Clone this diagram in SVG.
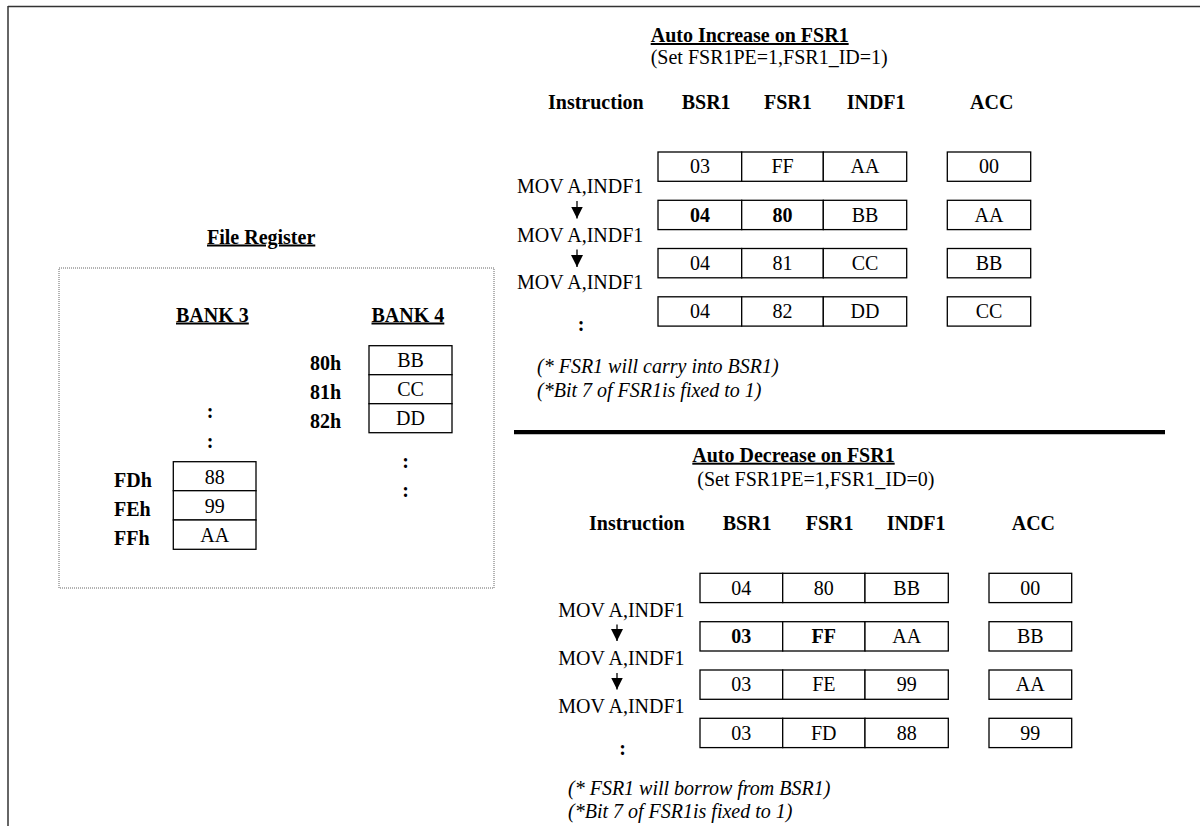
<svg xmlns="http://www.w3.org/2000/svg" width="1200" height="826" viewBox="0 0 1200 826">
<style>
.t{font-family:"Liberation Serif","Times New Roman",serif;font-size:20px;fill:#000}
.b{font-weight:bold}
.u{text-decoration:underline}
.i{font-style:italic}
.c{text-anchor:middle}
.cell{fill:#fff;stroke:#000;stroke-width:1.3}
.arrow{stroke:#000;stroke-width:1.3;fill:none;marker-end:url(#ah)}
</style>
<defs>
<marker id="ah" markerUnits="userSpaceOnUse" markerWidth="12" markerHeight="12" viewBox="0 0 12 12" refX="12" refY="6" orient="auto"><path d="M0,0 L12,6 L0,12 z" fill="#000"/></marker>
</defs>
<rect width="1200" height="826" fill="#fff"/>
<g id="frame" stroke="#333" stroke-width="1.5" fill="none">
<line x1="8" y1="6.5" x2="1200" y2="6.5"/>
<line x1="8" y1="6" x2="8" y2="826"/>
</g>

<!-- File register -->
<g id="file-register">
<text class="t b u" x="207" y="243.5">File Register</text>
<rect x="59" y="268" width="435" height="320" fill="none" stroke="#666" stroke-width="1" stroke-dasharray="1,1"/>
<text class="t b u" x="176" y="321.5">BANK 3</text>
<text class="t b u" x="371.5" y="321.5">BANK 4</text>
</g>
<g id="bank4">
<rect class="cell" x="369" y="345.7" width="83" height="29"/>
<rect class="cell" x="369" y="374.7" width="83" height="29"/>
<rect class="cell" x="369" y="403.7" width="83" height="29"/>
<text class="t c" x="410.5" y="367">BB</text>
<text class="t c" x="410.5" y="396">CC</text>
<text class="t c" x="410.5" y="425">DD</text>
<text class="t b" x="310" y="369.5">80h</text>
<text class="t b" x="310" y="398.5">81h</text>
<text class="t b" x="310" y="427.5">82h</text>
<text class="t b c" x="405.7" y="467.5">:</text>
<text class="t b c" x="405.7" y="496.5">:</text>
</g>
<g id="bank3">
<rect class="cell" x="173.3" y="461.7" width="82.7" height="29"/>
<rect class="cell" x="173.3" y="490.7" width="82.7" height="29.3"/>
<rect class="cell" x="173.3" y="520" width="82.7" height="29.3"/>
<text class="t c" x="214.7" y="484">88</text>
<text class="t c" x="214.7" y="512.7">99</text>
<text class="t c" x="214.7" y="541.7">AA</text>
<text class="t b" x="114" y="487">FDh</text>
<text class="t b" x="114" y="515.5">FEh</text>
<text class="t b" x="114" y="544.5">FFh</text>
<text class="t b c" x="210" y="418">:</text>
<text class="t b c" x="210" y="447.5">:</text>
</g>

<!-- Auto increase -->
<g id="inc-header">
<text class="t b u" x="650.7" y="42">Auto Increase on FSR1</text>
<text class="t" x="650.7" y="63.5">(Set FSR1PE=1,FSR1_ID=1)</text>
<text class="t b" x="548" y="109">Instruction</text>
<text class="t b" x="681.7" y="109">BSR1</text>
<text class="t b" x="764" y="109">FSR1</text>
<text class="t b" x="846.7" y="109">INDF1</text>
<text class="t b" x="970" y="109">ACC</text>
</g>
<g id="inc-row1">
<rect class="cell" x="658" y="152" width="83.7" height="29.3"/>
<rect class="cell" x="741.7" y="152" width="81.6" height="29.3"/>
<rect class="cell" x="823.3" y="152" width="83.4" height="29.3"/>
<rect class="cell" x="947.3" y="152" width="83.4" height="29.3"/>
<text class="t c" x="700" y="173.4">03</text>
<text class="t c" x="782.5" y="173.4">FF</text>
<text class="t c" x="865" y="173.4">AA</text>
<text class="t c" x="989" y="173.4">00</text>
</g>
<g id="inc-row2">
<rect class="cell" x="658" y="200.3" width="83.7" height="29.3"/>
<rect class="cell" x="741.7" y="200.3" width="81.6" height="29.3"/>
<rect class="cell" x="823.3" y="200.3" width="83.4" height="29.3"/>
<rect class="cell" x="947.3" y="200.3" width="83.4" height="29.3"/>
<text class="t b c" x="700" y="221.7">04</text>
<text class="t b c" x="782.5" y="221.7">80</text>
<text class="t c" x="865" y="221.7">BB</text>
<text class="t c" x="989" y="221.7">AA</text>
</g>
<g id="inc-row3">
<rect class="cell" x="658" y="248.5" width="83.7" height="29.3"/>
<rect class="cell" x="741.7" y="248.5" width="81.6" height="29.3"/>
<rect class="cell" x="823.3" y="248.5" width="83.4" height="29.3"/>
<rect class="cell" x="947.3" y="248.5" width="83.4" height="29.3"/>
<text class="t c" x="700" y="269.9">04</text>
<text class="t c" x="782.5" y="269.9">81</text>
<text class="t c" x="865" y="269.9">CC</text>
<text class="t c" x="989" y="269.9">BB</text>
</g>
<g id="inc-row4">
<rect class="cell" x="658" y="296.8" width="83.7" height="29.3"/>
<rect class="cell" x="741.7" y="296.8" width="81.6" height="29.3"/>
<rect class="cell" x="823.3" y="296.8" width="83.4" height="29.3"/>
<rect class="cell" x="947.3" y="296.8" width="83.4" height="29.3"/>
<text class="t c" x="700" y="318.2">04</text>
<text class="t c" x="782.5" y="318.2">82</text>
<text class="t c" x="865" y="318.2">DD</text>
<text class="t c" x="989" y="318.2">CC</text>
</g>
<g id="inc-instructions">
<text class="t" x="517" y="193.3">MOV A,INDF1</text>
<text class="t" x="517" y="241.7">MOV A,INDF1</text>
<text class="t" x="517" y="289.3">MOV A,INDF1</text>
<text class="t b c" x="581" y="331">:</text>
</g>
<g id="inc-notes">
<text class="t i" x="537" y="373.4">(* FSR1 will carry into BSR1)</text>
<text class="t i" x="537" y="396.7">(*Bit 7 of FSR1is fixed to 1)</text>
</g>

<line x1="514" y1="432.2" x2="1165" y2="432.2" stroke="#000" stroke-width="4.3"/>

<!-- Auto decrease -->
<g id="dec-header">
<text class="t b u" x="692.3" y="461.7">Auto Decrease on FSR1</text>
<text class="t" x="697.3" y="486">(Set FSR1PE=1,FSR1_ID=0)</text>
<text class="t b" x="589" y="529.5">Instruction</text>
<text class="t b" x="722.7" y="529.5">BSR1</text>
<text class="t b" x="805.7" y="529.5">FSR1</text>
<text class="t b" x="886.7" y="529.5">INDF1</text>
<text class="t b" x="1011.7" y="529.5">ACC</text>
</g>
<g id="dec-row1">
<rect class="cell" x="700" y="573.3" width="82.7" height="29.3"/>
<rect class="cell" x="782.7" y="573.3" width="82.3" height="29.3"/>
<rect class="cell" x="865" y="573.3" width="83.3" height="29.3"/>
<rect class="cell" x="989" y="573.3" width="82.7" height="29.3"/>
<text class="t c" x="741.3" y="594.7">04</text>
<text class="t c" x="823.8" y="594.7">80</text>
<text class="t c" x="906.7" y="594.7">BB</text>
<text class="t c" x="1030.3" y="594.7">00</text>
</g>
<g id="dec-row2">
<rect class="cell" x="700" y="621.7" width="82.7" height="29.3"/>
<rect class="cell" x="782.7" y="621.7" width="82.3" height="29.3"/>
<rect class="cell" x="865" y="621.7" width="83.3" height="29.3"/>
<rect class="cell" x="989" y="621.7" width="82.7" height="29.3"/>
<text class="t b c" x="741.3" y="643.1">03</text>
<text class="t b c" x="823.8" y="643.1">FF</text>
<text class="t c" x="906.7" y="643.1">AA</text>
<text class="t c" x="1030.3" y="643.1">BB</text>
</g>
<g id="dec-row3">
<rect class="cell" x="700" y="670" width="82.7" height="29.3"/>
<rect class="cell" x="782.7" y="670" width="82.3" height="29.3"/>
<rect class="cell" x="865" y="670" width="83.3" height="29.3"/>
<rect class="cell" x="989" y="670" width="82.7" height="29.3"/>
<text class="t c" x="741.3" y="691.4">03</text>
<text class="t c" x="823.8" y="691.4">FE</text>
<text class="t c" x="906.7" y="691.4">99</text>
<text class="t c" x="1030.3" y="691.4">AA</text>
</g>
<g id="dec-row4">
<rect class="cell" x="700" y="718.3" width="82.7" height="29.3"/>
<rect class="cell" x="782.7" y="718.3" width="82.3" height="29.3"/>
<rect class="cell" x="865" y="718.3" width="83.3" height="29.3"/>
<rect class="cell" x="989" y="718.3" width="82.7" height="29.3"/>
<text class="t c" x="741.3" y="739.7">03</text>
<text class="t c" x="823.8" y="739.7">FD</text>
<text class="t c" x="906.7" y="739.7">88</text>
<text class="t c" x="1030.3" y="739.7">99</text>
</g>
<g id="dec-instructions">
<text class="t" x="558.3" y="616.7">MOV A,INDF1</text>
<text class="t" x="558.3" y="665">MOV A,INDF1</text>
<text class="t" x="558.3" y="712.7">MOV A,INDF1</text>
<text class="t b c" x="622.7" y="754.5">:</text>
</g>
<g id="dec-notes">
<text class="t i" x="568" y="795">(* FSR1 will borrow from BSR1)</text>
<text class="t i" x="568" y="818.3">(*Bit 7 of FSR1is fixed to 1)</text>
</g>

<g id="connectors">
<line class="arrow" x1="577" y1="201" x2="577" y2="218.5"/>
<line class="arrow" x1="577" y1="249.5" x2="577" y2="267"/>
<line class="arrow" x1="617" y1="624.5" x2="617" y2="641"/>
<line class="arrow" x1="617" y1="673" x2="617" y2="689.5"/>
</g>
</svg>
